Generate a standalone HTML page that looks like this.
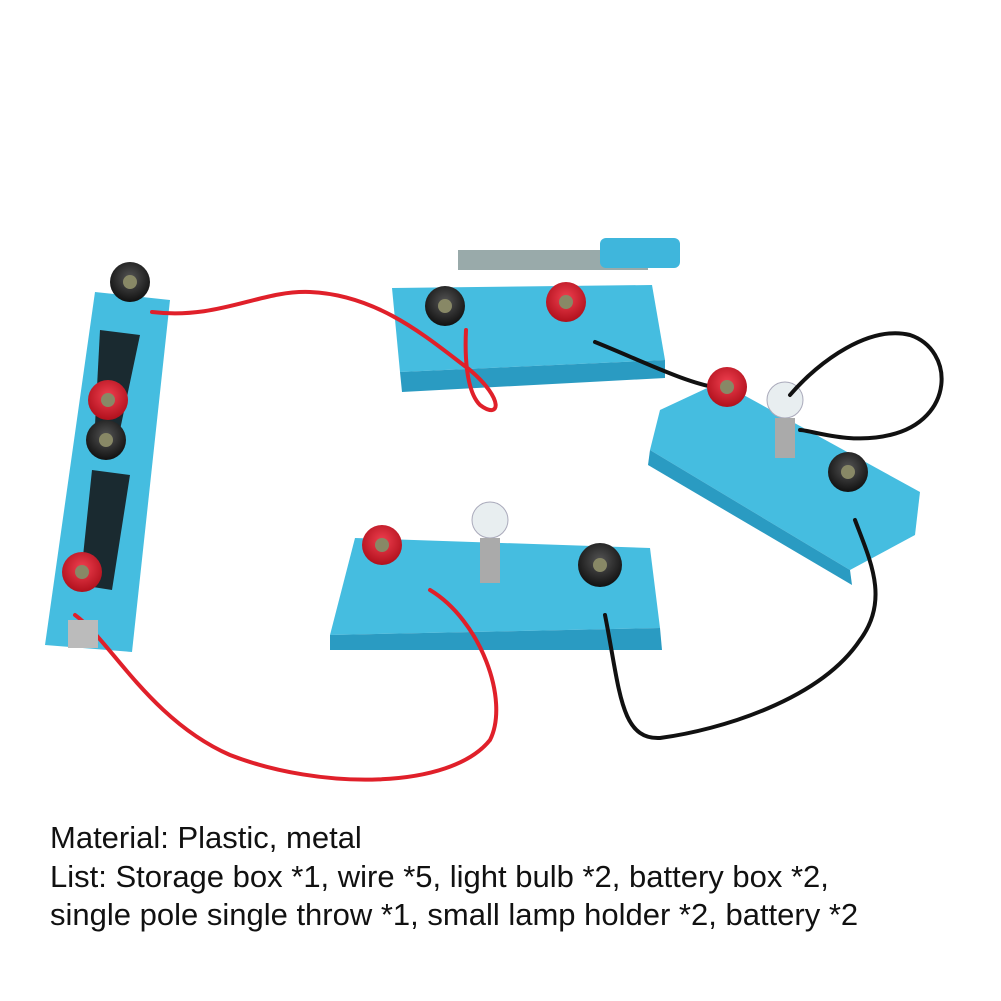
<!DOCTYPE html>
<html><head><meta charset="utf-8"><style>
html,body{margin:0;padding:0;background:#fff;}
.wrap{position:relative;width:1001px;height:1001px;overflow:hidden;background:#fff;}
.txt{position:absolute;left:50px;font-family:"Liberation Sans",sans-serif;font-size:31px;color:#111;white-space:nowrap;}
</style></head><body><div class="wrap">
<svg width="1001" height="1001" viewBox="0 0 1001 1001" style="position:absolute;left:0;top:0">
<defs>
<radialGradient id="r" cx="50%" cy="40%" r="60%"><stop offset="0" stop-color="#f04050"/><stop offset="1" stop-color="#b0101c"/></radialGradient>
<radialGradient id="k" cx="50%" cy="40%" r="60%"><stop offset="0" stop-color="#555"/><stop offset="1" stop-color="#111"/></radialGradient>
</defs>
<polygon points="392,288 652,285 665,360 400,372" fill="#45bde0"/>
<polygon points="400,372 665,360 665,378 402,392" fill="#2a9bc2"/>
<rect x="458" y="250" width="190" height="20" fill="#9aa" />
<rect x="600" y="238" width="80" height="30" rx="6" fill="#3fb6dc"/>
<polygon points="660,410 720,382 920,492 915,535 850,570 650,450" fill="#45bde0"/>
<polygon points="650,450 850,570 852,585 648,465" fill="#2a9bc2"/>
<polygon points="355,538 650,548 660,628 330,635" fill="#45bde0"/>
<polygon points="330,635 660,628 662,650 330,650" fill="#2a9bc2"/>
<polygon points="95,292 170,300 132,652 45,645" fill="#45bde0"/>
<polygon points="100,330 140,335 120,430 95,425" fill="#1a2a30"/>
<polygon points="92,470 130,475 112,590 80,585" fill="#1a2a30"/>
<circle cx="785" cy="400" r="18" fill="#e8eef0" stroke="#aab" />
<rect x="775" y="418" width="20" height="40" fill="#aaa"/>
<circle cx="490" cy="520" r="18" fill="#e8eef0" stroke="#aab"/>
<rect x="480" y="538" width="20" height="45" fill="#aaa"/>
<g fill="none" stroke-width="4" stroke-linecap="round">
<path d="M152,312 C220,320 260,290 310,292 C380,295 430,340 470,370 C505,400 500,420 480,405 C465,390 465,350 466,330" stroke="#e0202a"/>
<path d="M75,615 C110,640 150,720 230,755 C320,790 450,790 490,740 C510,700 480,620 430,590" stroke="#e0202a"/>
<path d="M595,342 C640,360 690,385 720,388" stroke="#111"/>
<path d="M790,395 C820,360 870,325 910,335 C955,350 955,420 890,435 C850,445 810,430 800,430" stroke="#111"/>
<path d="M855,520 C870,560 890,600 860,640 C820,700 720,730 660,738 C620,740 620,690 605,615" stroke="#111"/>
</g>
<g>
<circle cx="130" cy="282" r="20" fill="url(#k)"/>
<circle cx="108" cy="400" r="20" fill="url(#r)"/>
<circle cx="106" cy="440" r="20" fill="url(#k)"/>
<circle cx="82" cy="572" r="20" fill="url(#r)"/>
<circle cx="445" cy="306" r="20" fill="url(#k)"/>
<circle cx="566" cy="302" r="20" fill="url(#r)"/>
<circle cx="727" cy="387" r="20" fill="url(#r)"/>
<circle cx="848" cy="472" r="20" fill="url(#k)"/>
<circle cx="382" cy="545" r="20" fill="url(#r)"/>
<circle cx="600" cy="565" r="22" fill="url(#k)"/>
<circle cx="130" cy="282" r="7" fill="#886"/>
<circle cx="108" cy="400" r="7" fill="#886"/>
<circle cx="106" cy="440" r="7" fill="#886"/>
<circle cx="82" cy="572" r="7" fill="#886"/>
<circle cx="445" cy="306" r="7" fill="#886"/>
<circle cx="566" cy="302" r="7" fill="#886"/>
<circle cx="727" cy="387" r="7" fill="#886"/>
<circle cx="848" cy="472" r="7" fill="#886"/>
<circle cx="382" cy="545" r="7" fill="#886"/>
<circle cx="600" cy="565" r="7" fill="#886"/>
</g>
<rect x="68" y="620" width="30" height="28" fill="#bbb"/>
</svg>
<div class="txt" style="top:820px">Material: Plastic, metal</div>
<div class="txt" style="top:859px">List: Storage box *1, wire *5, light bulb *2, battery box *2,</div>
<div class="txt" style="top:897px">single pole single throw *1, small lamp holder *2, battery *2</div>
</div></body></html>
